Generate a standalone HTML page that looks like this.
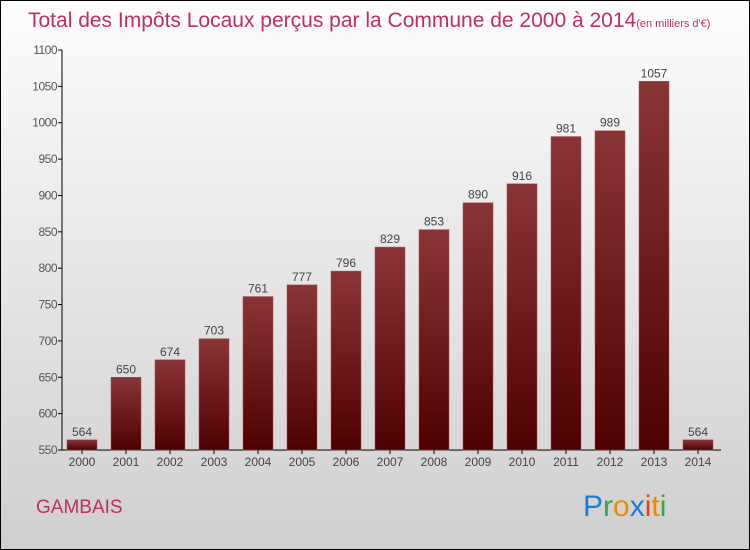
<!DOCTYPE html>
<html><head><meta charset="utf-8"><style>
body{margin:0;width:750px;height:550px;overflow:hidden}
svg{display:block;font-family:"Liberation Sans",sans-serif}
</style></head><body>
<svg width="750" height="550">
<defs>
<linearGradient id="bg" x1="0" y1="0" x2="0" y2="1"><stop offset="0" stop-color="#fdfdfd"/><stop offset="1" stop-color="#cfcfcf"/></linearGradient>
<linearGradient id="bar" x1="0" y1="0" x2="0" y2="1"><stop offset="0" stop-color="#8a3535"/><stop offset="1" stop-color="#4e0000"/></linearGradient>
</defs>
<rect x="0.5" y="0.5" width="749" height="549" fill="url(#bg)" stroke="#000"/>
<text x="28" y="27" font-size="21" fill="#c0305a">Total des Impôts Locaux perçus par la Commune de 2000 à 2014<tspan font-size="11">(en milliers d'€)</tspan></text>
<g id="axes"></g>
<g id="bars"></g>
<text x="36" y="513" font-size="19" fill="#c0305a">GAMBAIS</text>
<g font-size="30" font-family="'Liberation Sans',sans-serif">
<text x="583" y="516"><tspan fill="#1a7fd6">P</tspan><tspan fill="#3aa34a">r</tspan><tspan fill="#f08a00">o</tspan><tspan fill="#1a7fd6">x</tspan><tspan fill="#f04000">i</tspan><tspan fill="#f08a00">t</tspan><tspan fill="#3aa34a">i</tspan></text>
</g>
</svg>
<script>
const years=["2000","2001","2002","2003","2004","2005","2006","2007","2008","2009","2010","2011","2012","2013","2014"];
const values=[564,650,674,703,761,777,796,829,853,890,916,981,989,1057,564];
const yTicks=[550,600,650,700,750,800,850,900,950,1000,1050,1100];
const NS="http://www.w3.org/2000/svg";
const y=v=>450-(v-550)*400/550;
const x=i=>82+i*44;
function mk(t,a,p,txt){const e=document.createElementNS(NS,t);for(const k in a)e.setAttribute(k,a[k]);if(txt!=null)e.textContent=txt;p.appendChild(e);return e;}
const ax=document.getElementById('axes'),bg=document.getElementById('bars');
const yl=mk('line',{x1:62,y1:50,x2:62,y2:450,stroke:'#000'},ax);


const xl=mk('line',{x1:62,y1:450,x2:721,y2:450,stroke:'#000'},ax);


yTicks.forEach(v=>{
 mk('line',{x1:58,y1:y(v),x2:62,y2:y(v),stroke:'#000'},ax);
 const t=mk('text',{x:57,y:y(v)+4,'text-anchor':'end','font-size':12,fill:'#555','letter-spacing':'-0.5'},ax,v);
 
 
});
years.forEach((yr,i)=>{
 const r=mk('rect',{x:x(i)-15,y:y(values[i]),width:30,height:450-y(values[i]),fill:'url(#bar)',stroke:'#a05050','stroke-width':0.5},bg);
 
 
 const v=mk('text',{x:x(i),y:y(values[i])-4,'text-anchor':'middle','font-size':12,fill:'#444'},bg,values[i]);
 
 
 mk('line',{x1:x(i),y1:450,x2:x(i),y2:454,stroke:'#000'},ax);
 const l=mk('text',{x:x(i),y:466,'text-anchor':'middle','font-size':12,fill:'#444'},ax,yr);
 
 
});
</script>
</body></html>
